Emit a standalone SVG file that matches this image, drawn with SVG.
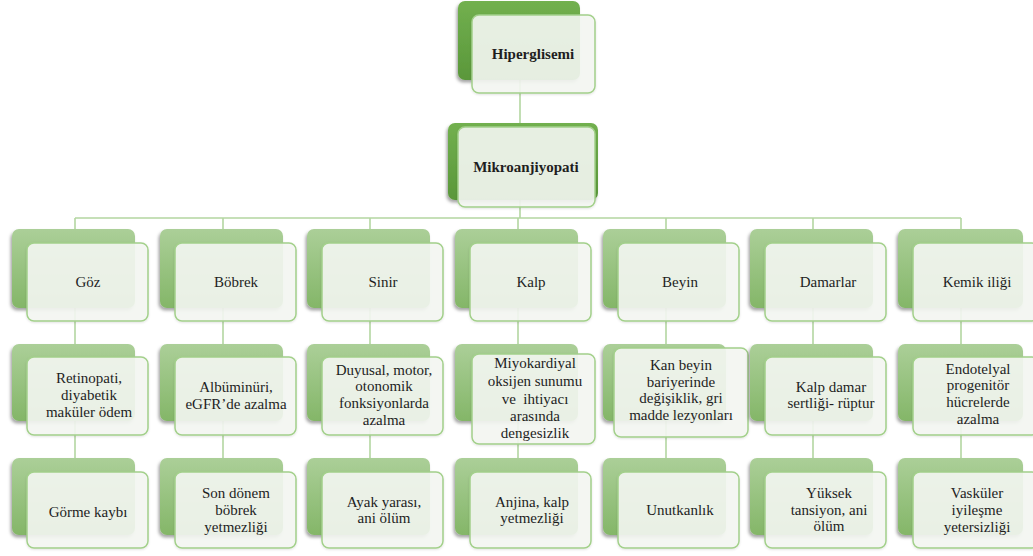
<svg xmlns="http://www.w3.org/2000/svg" width="1033" height="556" viewBox="0 0 1033 556">
<defs>
<linearGradient id="gBack" x1="0" y1="0" x2="0" y2="1">
<stop offset="0" stop-color="#abcf98"/>
<stop offset="1" stop-color="#84b668"/>
</linearGradient>
<linearGradient id="gTop" x1="0" y1="0" x2="0" y2="1">
<stop offset="0" stop-color="#72b04f"/>
<stop offset="1" stop-color="#5a973a"/>
</linearGradient>
<filter id="sh" x="-20%" y="-20%" width="140%" height="140%">
<feDropShadow dx="-1.5" dy="2.5" stdDeviation="1.5" flood-color="#000" flood-opacity="0.35"/>
</filter>
<filter id="sh2" x="-20%" y="-20%" width="140%" height="140%">
<feDropShadow dx="0" dy="1" stdDeviation="1" flood-color="#000" flood-opacity="0.12"/>
</filter>
</defs>
<style>
.back{fill:url(#gBack);filter:url(#sh);}
.backTop{fill:url(#gTop);filter:url(#sh);}
.front{fill:#f4f7f2;fill-opacity:0.9;stroke:#a3d08b;stroke-width:1.5;filter:url(#sh2);}
.conn{stroke:#b3d6a1;stroke-width:1.6;fill:none;}
text{font-family:Liberation Serif, Tinos, DejaVu Serif, serif;font-size:15px;fill:#1e1e1e;text-anchor:middle;}
.bold{font-weight:bold;}
</style>
<rect width="1033" height="556" fill="#ffffff"/>
<g id="connectors">
<line class="conn" x1="520" y1="80" x2="520" y2="125"/>
<line class="conn" x1="520" y1="200" x2="520" y2="218"/>
<line class="conn" x1="75" y1="218" x2="961" y2="218"/>
<line class="conn" x1="75" y1="218" x2="75" y2="472"/>
<line class="conn" x1="223" y1="218" x2="223" y2="472"/>
<line class="conn" x1="370" y1="218" x2="370" y2="472"/>
<line class="conn" x1="518" y1="218" x2="518" y2="472"/>
<line class="conn" x1="666" y1="218" x2="666" y2="472"/>
<line class="conn" x1="813" y1="218" x2="813" y2="472"/>
<line class="conn" x1="961" y1="218" x2="961" y2="472"/>
</g>
<g id="n-hiperglisemi">
<rect class="backTop" x="458" y="1" width="122" height="79" rx="7"/>
<rect class="front" x="472" y="15" width="123" height="78" rx="7"/>
<text class="bold" x="533" y="59" font-family="Liberation Serif, serif">Hiperglisemi</text>
</g>
<g id="n-mikroanjiyopati">
<rect class="backTop" x="448" y="123" width="150" height="77" rx="7"/>
<rect class="front" x="458" y="127" width="137" height="80" rx="7"/>
<text class="bold" x="526" y="172" font-family="Liberation Serif, serif">Mikroanjiyopati</text>
</g>
<g id="n-goz"><rect class="back" x="12" y="229" width="123" height="79" rx="7"/><rect class="front" x="27" y="243" width="121" height="78" rx="7"/><text x="88" y="287">Göz</text></g>
<g id="n-bobrek"><rect class="back" x="160" y="229" width="123" height="79" rx="7"/><rect class="front" x="175" y="243" width="121" height="78" rx="7"/><text x="236" y="287">Böbrek</text></g>
<g id="n-sinir"><rect class="back" x="307" y="229" width="123" height="79" rx="7"/><rect class="front" x="322" y="243" width="121" height="78" rx="7"/><text x="383" y="287">Sinir</text></g>
<g id="n-kalp"><rect class="back" x="455" y="229" width="123" height="79" rx="7"/><rect class="front" x="470" y="243" width="121" height="78" rx="7"/><text x="531" y="287">Kalp</text></g>
<g id="n-beyin"><rect class="back" x="603" y="229" width="123" height="79" rx="7"/><rect class="front" x="618" y="243" width="121" height="78" rx="7"/><text x="680" y="287">Beyin</text></g>
<g id="n-damarlar"><rect class="back" x="750" y="229" width="123" height="79" rx="7"/><rect class="front" x="765" y="243" width="121" height="78" rx="7"/><text x="828" y="287">Damarlar</text></g>
<g id="n-kemik"><rect class="back" x="898" y="229" width="125" height="79" rx="7"/><rect class="front" x="913" y="243" width="126" height="78" rx="7"/><text x="977" y="287">Kemik iliği</text></g>
<g id="n-retinopati"><rect class="back" x="12" y="344" width="123" height="77" rx="7"/><rect class="front" x="27" y="357" width="121" height="78" rx="7"/>
<text x="89" y="383">Retinopati,</text><text x="89" y="400">diyabetik</text><text x="89" y="417">maküler ödem</text></g>
<g id="n-albuminuri"><rect class="back" x="160" y="344" width="123" height="77" rx="7"/><rect class="front" x="175" y="357" width="121" height="78" rx="7"/>
<text x="236" y="392">Albüminüri,</text><text x="236" y="409">eGFR’de azalma</text></g>
<g id="n-duyusal"><rect class="back" x="307" y="344" width="123" height="77" rx="7"/><rect class="front" x="322" y="357" width="121" height="78" rx="7"/>
<text x="384" y="375">Duyusal, motor,</text><text x="384" y="391">otonomik</text><text x="384" y="408">fonksiyonlarda</text><text x="384" y="425">azalma</text></g>
<g id="n-miyokardiyal"><rect class="back" x="455" y="344" width="123" height="77" rx="7"/><rect class="front" x="472" y="354" width="123" height="90" rx="7"/>
<text x="535" y="368">Miyokardiyal</text><text x="535" y="386">oksijen sunumu</text><text x="535" y="404" xml:space="preserve">ve  ihtiyacı</text><text x="535" y="421">arasında</text><text x="535" y="438">dengesizlik</text></g>
<g id="n-kanbeyin"><rect class="back" x="603" y="344" width="123" height="77" rx="7"/><rect class="front" x="614" y="348" width="134" height="89" rx="7"/>
<text x="681" y="370">Kan beyin</text><text x="681" y="387">bariyerinde</text><text x="681" y="403">değişiklik, gri</text><text x="681" y="420">madde lezyonları</text></g>
<g id="n-kalpdamar"><rect class="back" x="750" y="344" width="123" height="77" rx="7"/><rect class="front" x="765" y="357" width="121" height="78" rx="7"/>
<text x="831" y="392">Kalp damar</text><text x="831" y="408">sertliği- rüptur</text></g>
<g id="n-endotelyal"><rect class="back" x="898" y="344" width="125" height="77" rx="7"/><rect class="front" x="913" y="357" width="126" height="78" rx="7"/>
<text x="978" y="374">Endotelyal</text><text x="978" y="390">progenitör</text><text x="978" y="407">hücrelerde</text><text x="978" y="424">azalma</text></g>
<g id="n-gorme"><rect class="back" x="12" y="458" width="123" height="77" rx="7"/><rect class="front" x="27" y="472" width="121" height="76" rx="7"/>
<text x="88" y="517">Görme kaybı</text></g>
<g id="n-sondonem"><rect class="back" x="160" y="458" width="123" height="77" rx="7"/><rect class="front" x="175" y="472" width="121" height="76" rx="7"/>
<text x="236" y="498">Son dönem</text><text x="236" y="515">böbrek</text><text x="236" y="532">yetmezliği</text></g>
<g id="n-ayak"><rect class="back" x="307" y="458" width="123" height="77" rx="7"/><rect class="front" x="322" y="472" width="121" height="76" rx="7"/>
<text x="384" y="507">Ayak yarası,</text><text x="384" y="523">ani ölüm</text></g>
<g id="n-anjina"><rect class="back" x="455" y="458" width="123" height="77" rx="7"/><rect class="front" x="470" y="472" width="121" height="76" rx="7"/>
<text x="532" y="507">Anjina, kalp</text><text x="532" y="523">yetmezliği</text></g>
<g id="n-unutkanlik"><rect class="back" x="603" y="458" width="123" height="77" rx="7"/><rect class="front" x="618" y="472" width="121" height="76" rx="7"/>
<text x="680" y="515">Unutkanlık</text></g>
<g id="n-yuksek"><rect class="back" x="750" y="458" width="123" height="77" rx="7"/><rect class="front" x="765" y="472" width="121" height="76" rx="7"/>
<text x="829" y="498">Yüksek</text><text x="829" y="515">tansiyon, ani</text><text x="829" y="531">ölüm</text></g>
<g id="n-vaskuler"><rect class="back" x="898" y="458" width="125" height="77" rx="7"/><rect class="front" x="913" y="472" width="126" height="76" rx="7"/>
<text x="977" y="498">Vasküler</text><text x="977" y="515">iyileşme</text><text x="977" y="532">yetersizliği</text></g>
</svg>
